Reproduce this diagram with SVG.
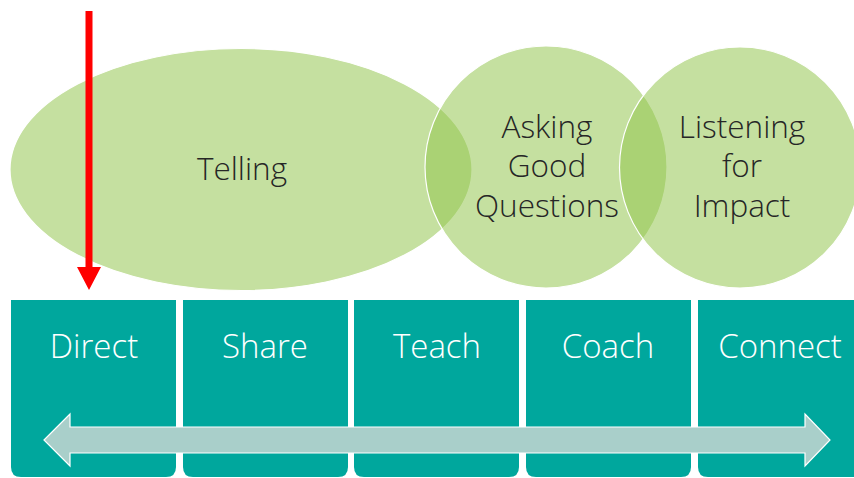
<svg xmlns="http://www.w3.org/2000/svg" width="854" height="478" viewBox="0 0 854 478">
<style>
.bubble{fill:#93c54d;fill-opacity:0.535;stroke:#ffffff;stroke-width:1.2}
.dark{font-family:"Open Sans","Noto Sans",sans-serif;font-weight:300;font-size:31.5px;fill:#262626;text-anchor:middle}
.box{fill:#00a79d}
.lbl{font-family:"Open Sans","Noto Sans",sans-serif;font-weight:300;font-size:33px;fill:#ffffff;text-anchor:middle}
</style>
<rect width="854" height="478" fill="#ffffff"/>
<g id="telling">
<ellipse class="bubble" cx="241" cy="169.5" rx="231" ry="121"/>
<text class="dark" x="242" y="180">Telling</text>
</g>
<g id="asking">
<circle class="bubble" cx="546" cy="167" r="121"/>
<text class="dark" x="547" y="138">Asking</text>
<text class="dark" x="547" y="177">Good</text>
<text class="dark" x="547" y="217">Questions</text>
</g>
<g id="listening">
<circle class="bubble" cx="740" cy="167.5" r="120.5"/>
<text class="dark" x="742" y="138">Listening</text>
<text class="dark" x="742" y="177">for</text>
<text class="dark" x="742" y="217">Impact</text>
</g>
<g id="direct">
<path class="box" d="M11 300 H176 V467 Q176 477 166 477 H21 Q11 477 11 467 Z"/>
<text class="lbl" x="94" y="358">Direct</text>
</g>
<g id="share">
<path class="box" d="M183 300 H348 V467 Q348 477 338 477 H193 Q183 477 183 467 Z"/>
<text class="lbl" x="265" y="358">Share</text>
</g>
<g id="teach">
<path class="box" d="M354 300 H519 V467 Q519 477 509 477 H364 Q354 477 354 467 Z"/>
<text class="lbl" x="437" y="358">Teach</text>
</g>
<g id="coach">
<path class="box" d="M526 300 H691 V467 Q691 477 681 477 H536 Q526 477 526 467 Z"/>
<text class="lbl" x="608" y="358">Coach</text>
</g>
<g id="connect">
<path class="box" d="M698 300 H863 V467 Q863 477 853 477 H708 Q698 477 698 467 Z"/>
<text class="lbl" x="780" y="358">Connect</text>
</g>
<g id="connectors">
<path d="M44 440 L70 414 V427 H805 V414 L830 440 L805 466 V453 H70 V466 Z" fill="#a9cfca" stroke="#ffffff" stroke-width="1.2"/>
<path d="M85.5 11 H92.5 V267 H101 L89 290 L77 267 H85.5 Z" fill="#ff0000"/>
</g>
</svg>
